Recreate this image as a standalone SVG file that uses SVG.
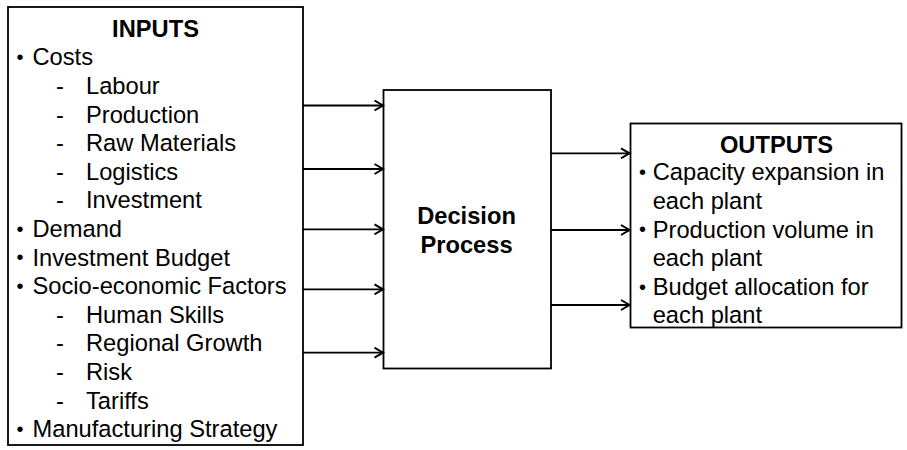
<svg xmlns="http://www.w3.org/2000/svg" width="907" height="450" viewBox="0 0 907 450">
<defs>
<style>
.box{fill:#fff;stroke:#000;stroke-width:1.8}
.t{font-family:"Liberation Sans",Arial,sans-serif;font-size:23.7px;fill:#000}
.b{font-weight:bold}
.u{font-size:20px}
.c{stroke:#000;stroke-width:1.8;fill:none}
</style>
<marker id="ah" markerWidth="12" markerHeight="12" refX="10" refY="6" orient="auto" markerUnits="userSpaceOnUse">
<path d="M1.5,1 L10,6 L1.5,11" fill="none" stroke="#000" stroke-width="2"/>
</marker>
</defs>
<g id="inputs">
<rect class="box" x="8" y="7" width="295" height="438"/>
<text class="t b" x="155.5" y="37" text-anchor="middle">INPUTS</text>
<g class="t">
<text class="u" x="16.5" y="64.2">•</text><text x="32.5" y="65.4">Costs</text>
<text x="56" y="94">-</text><text x="86" y="94">Labour</text>
<text x="56" y="122.6">-</text><text x="86" y="122.6">Production</text>
<text x="56" y="151.2">-</text><text x="86" y="151.2">Raw Materials</text>
<text x="56" y="179.8">-</text><text x="86" y="179.8">Logistics</text>
<text x="56" y="208.4">-</text><text x="86" y="208.4">Investment</text>
<text class="u" x="16.5" y="235.8">•</text><text x="32.5" y="237">Demand</text>
<text class="u" x="16.5" y="264.4">•</text><text x="32.5" y="265.6">Investment Budget</text>
<text class="u" x="16.5" y="293">•</text><text x="32.5" y="294.2">Socio-economic Factors</text>
<text x="56" y="322.8">-</text><text x="86" y="322.8">Human Skills</text>
<text x="56" y="351.4">-</text><text x="86" y="351.4">Regional Growth</text>
<text x="56" y="380">-</text><text x="86" y="380">Risk</text>
<text x="56" y="408.6">-</text><text x="86" y="408.6">Tariffs</text>
<text class="u" x="16.5" y="436">•</text><text x="32.5" y="437.2">Manufacturing Strategy</text>
</g>
</g>
<g id="decision">
<rect class="box" x="383.5" y="90" width="167.5" height="278.5"/>
<text class="t b" x="466.5" y="224" text-anchor="middle">Decision</text>
<text class="t b" x="466.5" y="252.7" text-anchor="middle">Process</text>
</g>
<g id="outputs">
<rect class="box" x="630.5" y="123.5" width="271" height="204"/>
<text class="t b" x="776.5" y="153.3" text-anchor="middle">OUTPUTS</text>
<g class="t">
<text class="u" x="639" y="179.1">•</text><text x="652.7" y="180.3">Capacity expansion in</text>
<text x="652.7" y="208.9">each plant</text>
<text class="u" x="639" y="236.3">•</text><text x="652.7" y="237.5">Production volume in</text>
<text x="652.7" y="266.1">each plant</text>
<text class="u" x="639" y="293.5">•</text><text x="652.7" y="294.7">Budget allocation for</text>
<text x="652.7" y="323.3">each plant</text>
</g>
</g>
<g id="connectors">
<line class="c" x1="303" y1="105.5" x2="383" y2="105.5" marker-end="url(#ah)"/>
<line class="c" x1="303" y1="169" x2="383" y2="169" marker-end="url(#ah)"/>
<line class="c" x1="303" y1="229.3" x2="383" y2="229.3" marker-end="url(#ah)"/>
<line class="c" x1="303" y1="289.3" x2="383" y2="289.3" marker-end="url(#ah)"/>
<line class="c" x1="303" y1="352.7" x2="383" y2="352.7" marker-end="url(#ah)"/>
<line class="c" x1="551" y1="153.3" x2="629.5" y2="153.3" marker-end="url(#ah)"/>
<line class="c" x1="551" y1="230" x2="629.5" y2="230" marker-end="url(#ah)"/>
<line class="c" x1="551" y1="305" x2="629.5" y2="305" marker-end="url(#ah)"/>
</g>
</svg>
